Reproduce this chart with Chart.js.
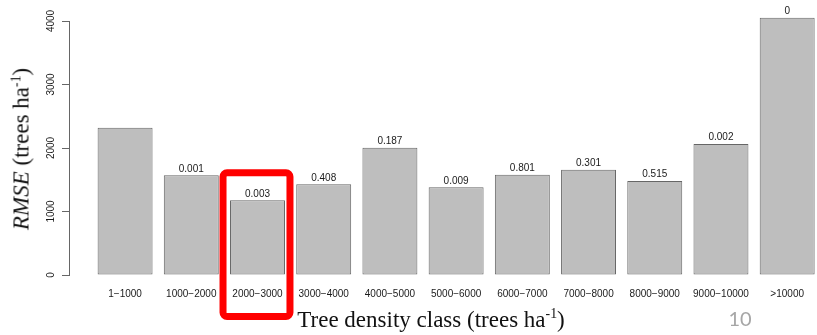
<!DOCTYPE html>
<html><head><meta charset="utf-8">
<script src="https://cdn.jsdelivr.net/npm/chart.js@4"></script>
<style>
html,body{margin:0;padding:0;background:#fff;overflow:hidden}
#wrap{position:relative;width:817px;height:335px}
canvas{position:absolute;left:0;top:0}
.ttl{position:absolute;font-family:"Liberation Serif","Times New Roman",serif;font-size:23px;color:#111;white-space:nowrap;line-height:1}
.ttl sup{font-size:0.6em;vertical-align:0.6em;line-height:0}
</style></head><body>
<div id="wrap">
<canvas id="c" width="817" height="335"></canvas>
<div class="ttl" style="left:431px;top:319px;transform:translate(-50%,-50%)">Tree density class (trees ha<sup>-1</sup>)</div>
<div class="ttl" style="left:21px;top:149px;transform:translate(-50%,-50%) rotate(-90deg)"><i>RMSE</i> (trees ha<sup>-1</sup>)</div>
<div style="position:absolute;left:740px;top:318px;transform:translate(-50%,-50%);font-family:Lato,'Open Sans',sans-serif;font-size:20px;color:#a6a6a6;line-height:1">10</div>
</div>
<script>
const categories = ['1\u22121000','1000\u22122000','2000\u22123000','3000\u22124000','4000\u22125000','5000\u22126000','6000\u22127000','7000\u22128000','8000\u22129000','9000\u221210000','>10000'];
const rmse = [2320, 1570, 1176, 1428, 2005, 1381, 1580, 1658, 1480, 2063, 4052];
const pValues = ['', '0.001', '0.003', '0.408', '0.187', '0.009', '0.801', '0.301', '0.515', '0.002', '0'];
const yTicks = [0, 1000, 2000, 3000, 4000];
const highlightIndex = 2;

const valueLabels = {
  id: 'valueLabels',
  afterDatasetsDraw(chart) {
    const ctx = chart.ctx;
    const meta = chart.getDatasetMeta(0);
    ctx.save();
    ctx.font = '10px "Liberation Sans", Arial, sans-serif';
    ctx.fillStyle = '#1a1a1a';
    ctx.textAlign = 'center';
    ctx.textBaseline = 'bottom';
    meta.data.forEach((el, i) => {
      if (pValues[i]) ctx.fillText(pValues[i], el.x, el.y - 1.5);
    });
    ctx.restore();
  }
};

const highlightBox = {
  id: 'highlightBox',
  afterDraw(chart) {
    const ctx = chart.ctx;
    const el = chart.getDatasetMeta(0).data[highlightIndex];
    const ys = chart.scales.y;
    const left = el.x - el.width / 2 - 7;
    const right = el.x + el.width / 2 + 5;
    const top = el.y - 27.5;
    const bottom = ys.bottom + 41.5;
    ctx.save();
    ctx.strokeStyle = '#ff0000';
    ctx.lineWidth = 7;
    ctx.beginPath();
    ctx.roundRect(left, top, right - left, bottom - top, 4);
    ctx.stroke();
    ctx.restore();
  }
};

new Chart(document.getElementById('c'), {
  type: 'bar',
  data: {
    datasets: [{
      data: rmse.map((v, i) => ({ x: i, y: v })),
      backgroundColor: '#bebebe',
      borderColor: '#666',
      borderWidth: 1,
      borderSkipped: false,
      barPercentage: 0.83,
      categoryPercentage: 1,
      clip: false
    }]
  },
  options: {
    responsive: false,
    animation: false,
    layout: { padding: { top: 21, right: 0, left: 0, bottom: 0 } },
    plugins: { legend: { display: false }, tooltip: { enabled: false } },
    scales: {
      x: {
        type: 'linear',
        offset: false,
        min: -0.847,
        max: 10.442,
        afterBuildTicks(s) { s.ticks = categories.map((c, i) => ({ value: i })); },
        afterFit(s) { s.height = 60; },
        grid: { display: false, drawTicks: false },
        border: { display: false },
        ticks: {
          autoSkip: false, maxRotation: 0, minRotation: 0, padding: 13,
          font: { family: '"Liberation Sans", Arial, sans-serif', size: 10 },
          color: '#1a1a1a',
          callback: (v) => categories[v] ?? ''
        }
      },
      y: {
        min: 0,
        max: 4000,
        afterBuildTicks(s) { s.ticks = yTicks.map(v => ({ value: v })); },
        afterFit(s) { s.width = 69; },
        grid: { drawOnChartArea: false, drawTicks: true, tickLength: 7, color: '#666' },
        border: { display: true, color: '#666' },
        ticks: {
          minRotation: 90, maxRotation: 90, crossAlign: 'center', padding: 0,
          font: { family: '"Liberation Sans", Arial, sans-serif', size: 10 },
          color: '#1a1a1a',
          callback: (v) => String(v)
        }
      }
    }
  },
  plugins: [valueLabels, highlightBox]
});
</script>
</body></html>
